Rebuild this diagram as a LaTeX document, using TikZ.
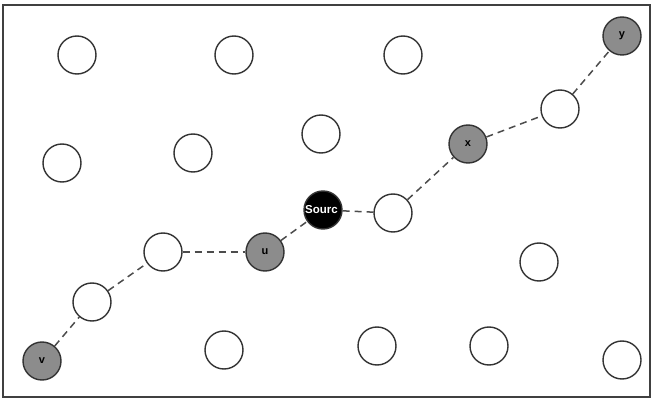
\documentclass[tikz,border=0pt]{standalone}
\usepackage{fontspec}
\setmainfont{Liberation Sans}
\begin{document}
\begin{tikzpicture}[x=1pt,y=-1pt,
  nd/.style={circle,draw=black!80,line width=1.4pt,minimum size=38pt,inner sep=0pt,fill=white,font=\bfseries\fontsize{11}{11}\selectfont},
  gnd/.style={nd,fill=black!45},
  snd/.style={nd,fill=black,text=white},
  link/.style={draw=black!70,line width=1.5pt,dash pattern=on 7pt off 5pt}]
\useasboundingbox (0,0) rectangle (654,401);
\draw[line width=2pt,draw=black!75] (3,5) rectangle (650,397);
% plain nodes
\node[nd] (a1) at (77,55) {};
\node[nd] (a2) at (234,55) {};
\node[nd] (a3) at (403,55) {};
\node[nd] (b1) at (62,163) {};
\node[nd] (b2) at (193,153) {};
\node[nd] (b3) at (321,134) {};
\node[nd] (w5) at (560,109) {};
\node[nd] (w4) at (393,213) {};
\node[nd] (w2) at (163,252) {};
\node[nd] (c1) at (539,262) {};
\node[nd] (w1) at (92,302) {};
\node[nd] (d1) at (224,350) {};
\node[nd] (d2) at (377,346) {};
\node[nd] (d3) at (489,346) {};
\node[nd] (d4) at (622,360) {};
% special nodes
\node[gnd] (y) at (622,36) {y};
\node[gnd] (x) at (468,144) {x};
\node[gnd] (u) at (265,252) {u};
\node[gnd] (v) at (42,361) {v};
\node[snd] (s) at (323,210) {};
% links
\draw[link] (v) -- (w1);
\draw[link] (w1) -- (w2);
\draw[link] (w2) -- (u);
\draw[link] (u) -- (s);
\draw[link] (s) -- (w4);
\draw[link] (w4) -- (x);
\draw[link] (x) -- (w5);
\draw[link] (w5) -- (y);
\node[font=\bfseries\fontsize{11.5}{11.5}\selectfont,text=white,inner sep=0pt,anchor=west] (st) at (305,210) {Sourc};
\end{tikzpicture}
\end{document}
